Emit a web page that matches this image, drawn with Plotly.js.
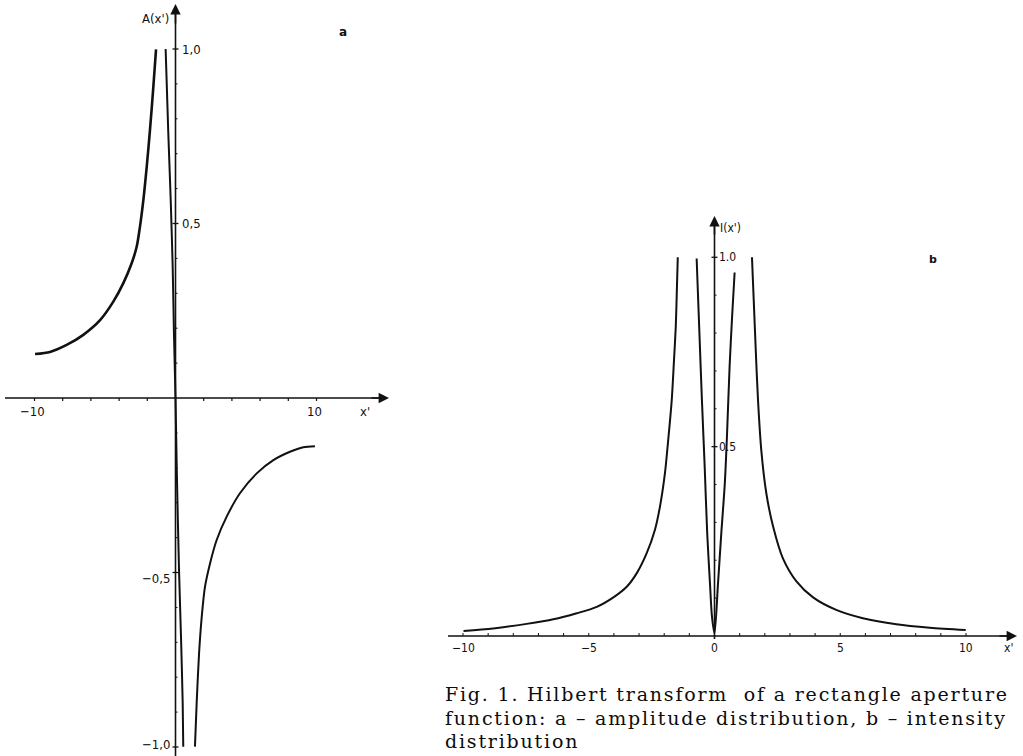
<!DOCTYPE html>
<html>
<head>
<meta charset="utf-8">
<script src="https://cdn.plot.ly/plotly-3.0.1.min.js"></script>
<style>html,body{margin:0;padding:0;background:#fff;}#chart{width:1023px;height:756px;}</style>
</head>
<body>
<div id="chart"></div>
<script>
// ---------- Data: panel a, amplitude distribution A(x') ----------
const aLeftX  = [-9.96,-8.90,-7.72,-6.54,-5.35,-4.41,-3.70,-3.11,-2.75,-2.52,-2.28,-2.04,-1.81,-1.57,-1.38];
const aLeftY  = [0.126,0.132,0.152,0.181,0.223,0.276,0.329,0.386,0.434,0.491,0.567,0.663,0.768,0.892,0.999];
const aMidX   = [-0.70,-0.51,-0.34,-0.20,-0.11,0.00,0.09,0.25,0.39,0.51,0.55];
const aMidY   = [1.000,0.758,0.567,0.376,0.186,0.000,-0.206,-0.493,-0.684,-0.874,-0.999];
const aRightX = [1.38,1.50,1.67,1.86,2.09,2.45,2.92,3.63,4.57,5.76,6.94,8.12,9.06,9.89];
const aRightY = [-0.999,-0.875,-0.732,-0.627,-0.541,-0.474,-0.407,-0.340,-0.273,-0.216,-0.178,-0.154,-0.141,-0.138];

// ---------- Data: panel b, intensity distribution I(x') ----------
const bLeftX  = [-9.98,-8.80,-7.47,-6.41,-5.48,-4.68,-4.02,-3.49,-3.09,-2.70,-2.37,-2.17,-1.97,-1.84,-1.70,-1.61,-1.54,-1.50,-1.46];
const bLeftY  = [0.013,0.020,0.032,0.044,0.060,0.077,0.102,0.130,0.166,0.218,0.280,0.341,0.430,0.518,0.623,0.729,0.817,0.905,1.000];
const bMidX   = [-0.71,-0.60,-0.50,-0.39,-0.29,-0.18,-0.10,0.00,0.14,0.27,0.41,0.50,0.60,0.70,0.80];
const bMidY   = [0.997,0.800,0.623,0.447,0.271,0.139,0.051,0.007,0.139,0.271,0.403,0.535,0.711,0.843,0.960];
const bRightX = [1.49,1.56,1.64,1.73,1.86,2.06,2.33,2.72,3.25,3.92,4.84,5.90,7.23,8.56,9.99];
const bRightY = [1.000,0.887,0.755,0.623,0.491,0.377,0.289,0.205,0.145,0.102,0.069,0.047,0.031,0.022,0.016];

// ---------- Tick positions and labels ----------
const aXTicks = [-10,-8,-6,-4,-2,2,4,6,8,10];
const aYMinor = [-0.9,-0.8,-0.7,-0.6,-0.4,-0.3,-0.2,-0.1,0.1,0.2,0.3,0.4,0.6,0.7,0.8,0.9];
const aYMajor = [-1.0,-0.5,0.5,1.0];
const aXLabelVals = [-10,10];
const aXLabelText = ['\u221210','10'];
const aYLabelVals = [1.0,0.5,-0.5,-1.0];
const aYLabelText = ['1,0','0,5','\u22120,5','\u22121,0'];

const bXTicks = [-10,-9,-8,-7,-6,-5,-4,-3,-2,-1,1,2,3,4,5,6,7,8,9,10];
const bYMinor = [0.1,0.2,0.3,0.4,0.6,0.7,0.8,0.9];
const bYMajor = [0.5,1.0];
const bXLabelVals = [-10,-5,0,5,10];
const bXLabelText = ['\u221210','\u22125','0','5','10'];
const bYLabelVals = [1.0,0.5];
const bYLabelText = ['1.0','0.5'];

const captionLines = [
  'Fig. 1. Hilbert transform&nbsp;&nbsp;of a rectangle aperture',
  'function: a \u2013 amplitude distribution, b \u2013 intensity',
  'distribution'
];

// ---------- Layout geometry (pixels) ----------
const W = 1023, H = 756;
const aPx0 = 175.5, aPxU = 14.1, aPy0 = 398, aPyU = 349;
const aL = 0, aR = 400;
const bPx0 = 714.5, bPxU = 25.15, bPy0 = 636, bPyU = 378.7;
const bL = 420, bR = 1023, bT = 200, bB = 680;

const ink = '#111111';
const sansC = 'DejaVu Sans Condensed, Liberation Sans Narrow, Liberation Sans, sans-serif';
const tickFont = {family: sansC, size: 13, color: ink};

const traces = [];
function addLine(xs, ys, xa, ya, w) {
  traces.push({x: xs, y: ys, xaxis: xa, yaxis: ya, type: 'scatter', mode: 'lines',
    line: {color: ink, width: w, shape: 'spline', smoothing: 0.8}, hoverinfo: 'skip', showlegend: false});
}
addLine(aLeftX, aLeftY, 'x', 'y', 2.6);
addLine(aMidX, aMidY, 'x', 'y', 2.0);
addLine(aRightX, aRightY, 'x', 'y', 2.0);
addLine(bLeftX, bLeftY, 'x2', 'y2', 2.0);
addLine(bMidX, bMidY, 'x2', 'y2', 2.0);
addLine(bRightX, bRightY, 'x2', 'y2', 2.0);

const shapes = [];
function seg(xref, yref, x0, y0, x1, y1, w) {
  shapes.push({type: 'line', xref: xref, yref: yref, x0: x0, y0: y0, x1: x1, y1: y1,
    line: {color: ink, width: w}});
}
seg('x', 'y', (5 - aPx0) / aPxU, 0, (382 - aPx0) / aPxU, 0, 1.6);
seg('x', 'y', 0, (aPy0 - H) / aPyU, 0, (aPy0 - 12) / aPyU, 1.6);
aXTicks.forEach(v => seg('x', 'y', v, 0, v, -3 / aPyU, 1.2));
aYMinor.forEach(v => seg('x', 'y', 0, v, 2 / aPxU, v, 1));
aYMajor.forEach(v => seg('x', 'y', -3 / aPxU, v, 3 / aPxU, v, 1.3));
seg('x2', 'y2', (448 - bPx0) / bPxU, 0, (1010 - bPx0) / bPxU, 0, 1.6);
seg('x2', 'y2', 0, -3 / bPyU, 0, (bPy0 - 224) / bPyU, 1.6);
bXTicks.forEach(v => seg('x2', 'y2', v, 0, v, 3 / bPyU, 1));
bYMinor.forEach(v => seg('x2', 'y2', 0, v, 2 / bPxU, v, 1));
bYMajor.forEach(v => seg('x2', 'y2', -3 / bPxU, v, 3 / bPxU, v, 1.3));

const ann = [];
function arrowHead(xref, yref, xTip, yTip, xTail, yTail) {
  ann.push({xref: xref, yref: yref, axref: xref, ayref: yref, x: xTip, y: yTip, ax: xTail, ay: yTail,
    text: '', showarrow: true, arrowhead: 2, arrowsize: 1.3, arrowwidth: 1.6, arrowcolor: ink, standoff: 0});
}
arrowHead('x', 'y', (389 - aPx0) / aPxU, 0, (370 - aPx0) / aPxU, 0);
arrowHead('x', 'y', 0, (aPy0 - 4) / aPyU, 0, (aPy0 - 25) / aPyU);
arrowHead('x2', 'y2', (1017 - bPx0) / bPxU, 0, (998 - bPx0) / bPxU, 0);
arrowHead('x2', 'y2', 0, (bPy0 - 216) / bPyU, 0, (bPy0 - 236) / bPyU);

function label(xref, yref, x, y, text, xanchor, yanchor, xshift, yshift, font) {
  ann.push({xref: xref, yref: yref, x: x, y: y, text: text, showarrow: false,
    xanchor: xanchor, yanchor: yanchor, xshift: xshift || 0, yshift: yshift || 0, font: font || tickFont});
}
aXLabelVals.forEach((v, i) => label('x', 'y', v, 0, aXLabelText[i], 'center', 'top', -2, -4));
aYLabelVals.forEach((v, i) => {
  if (v > 0) label('x', 'y', 0, v, aYLabelText[i], 'left', 'middle', 4, 0);
  else if (v > -0.9) label('x', 'y', 0, v, aYLabelText[i], 'right', 'middle', -4, -6);
  else label('x', 'y', 0, v, aYLabelText[i], 'right', 'middle', -4, 3);
});
label('x', 'y', 0, (aPy0 - 18) / aPyU, "A(x')", 'right', 'middle', -5, 0);
label('x', 'y', (365 - aPx0) / aPxU, 0, "x'", 'center', 'top', 0, -4);
label('x', 'y', (343 - aPx0) / aPxU, (aPy0 - 32) / aPyU, '<b>a</b>', 'center', 'middle', 0, 0,
  {family: 'DejaVu Sans, sans-serif', size: 12, color: ink});
const smallFont = {family: sansC, size: 12, color: ink};
bXLabelVals.forEach((v, i) => label('x2', 'y2', v, 0, bXLabelText[i], 'center', 'top', 0, -3, smallFont));
bYLabelVals.forEach((v, i) => label('x2', 'y2', 0, v, bYLabelText[i], 'left', 'middle', 2, 0, smallFont));
label('x2', 'y2', 0, (bPy0 - 228) / bPyU, "I(x')", 'left', 'middle', 3, 0, smallFont);
label('x2', 'y2', (1008 - bPx0) / bPxU, 0, "x'", 'center', 'top', 0, -3, smallFont);
label('x2', 'y2', (933 - bPx0) / bPxU, (bPy0 - 259) / bPyU, '<b>b</b>', 'center', 'middle', 0, 0,
  {family: 'DejaVu Sans, sans-serif', size: 11, color: ink});
const capY = [694, 718, 741];
captionLines.forEach((t, i) => ann.push({xref: 'paper', yref: 'paper', x: 443 / W, y: 1 - capY[i] / H,
  text: '<span style="letter-spacing:1.8px">' + t + '</span>', showarrow: false, xanchor: 'left', yanchor: 'middle',
  font: {family: 'DejaVu Serif, Liberation Serif, serif', size: 19, color: '#0c0c0c'}}));

const hidden = {visible: false, showgrid: false, zeroline: false, fixedrange: true};
const layout = {
  width: W, height: H, autosize: false,
  margin: {l: 0, r: 0, t: 0, b: 0, pad: 0},
  paper_bgcolor: '#ffffff', plot_bgcolor: 'rgba(0,0,0,0)',
  showlegend: false,
  xaxis: Object.assign({}, hidden, {domain: [aL / W, aR / W], range: [(aL - aPx0) / aPxU, (aR - aPx0) / aPxU]}),
  yaxis: Object.assign({}, hidden, {domain: [0, 1], range: [(aPy0 - H) / aPyU, aPy0 / aPyU]}),
  xaxis2: Object.assign({}, hidden, {domain: [bL / W, bR / W], range: [(bL - bPx0) / bPxU, (bR - bPx0) / bPxU]}),
  yaxis2: Object.assign({}, hidden, {domain: [1 - bB / H, 1 - bT / H], range: [(bPy0 - bB) / bPyU, (bPy0 - bT) / bPyU]}),
  shapes: shapes,
  annotations: ann
};
Plotly.newPlot('chart', traces, layout, {staticPlot: true, displayModeBar: false});
</script>
</body>
</html>
